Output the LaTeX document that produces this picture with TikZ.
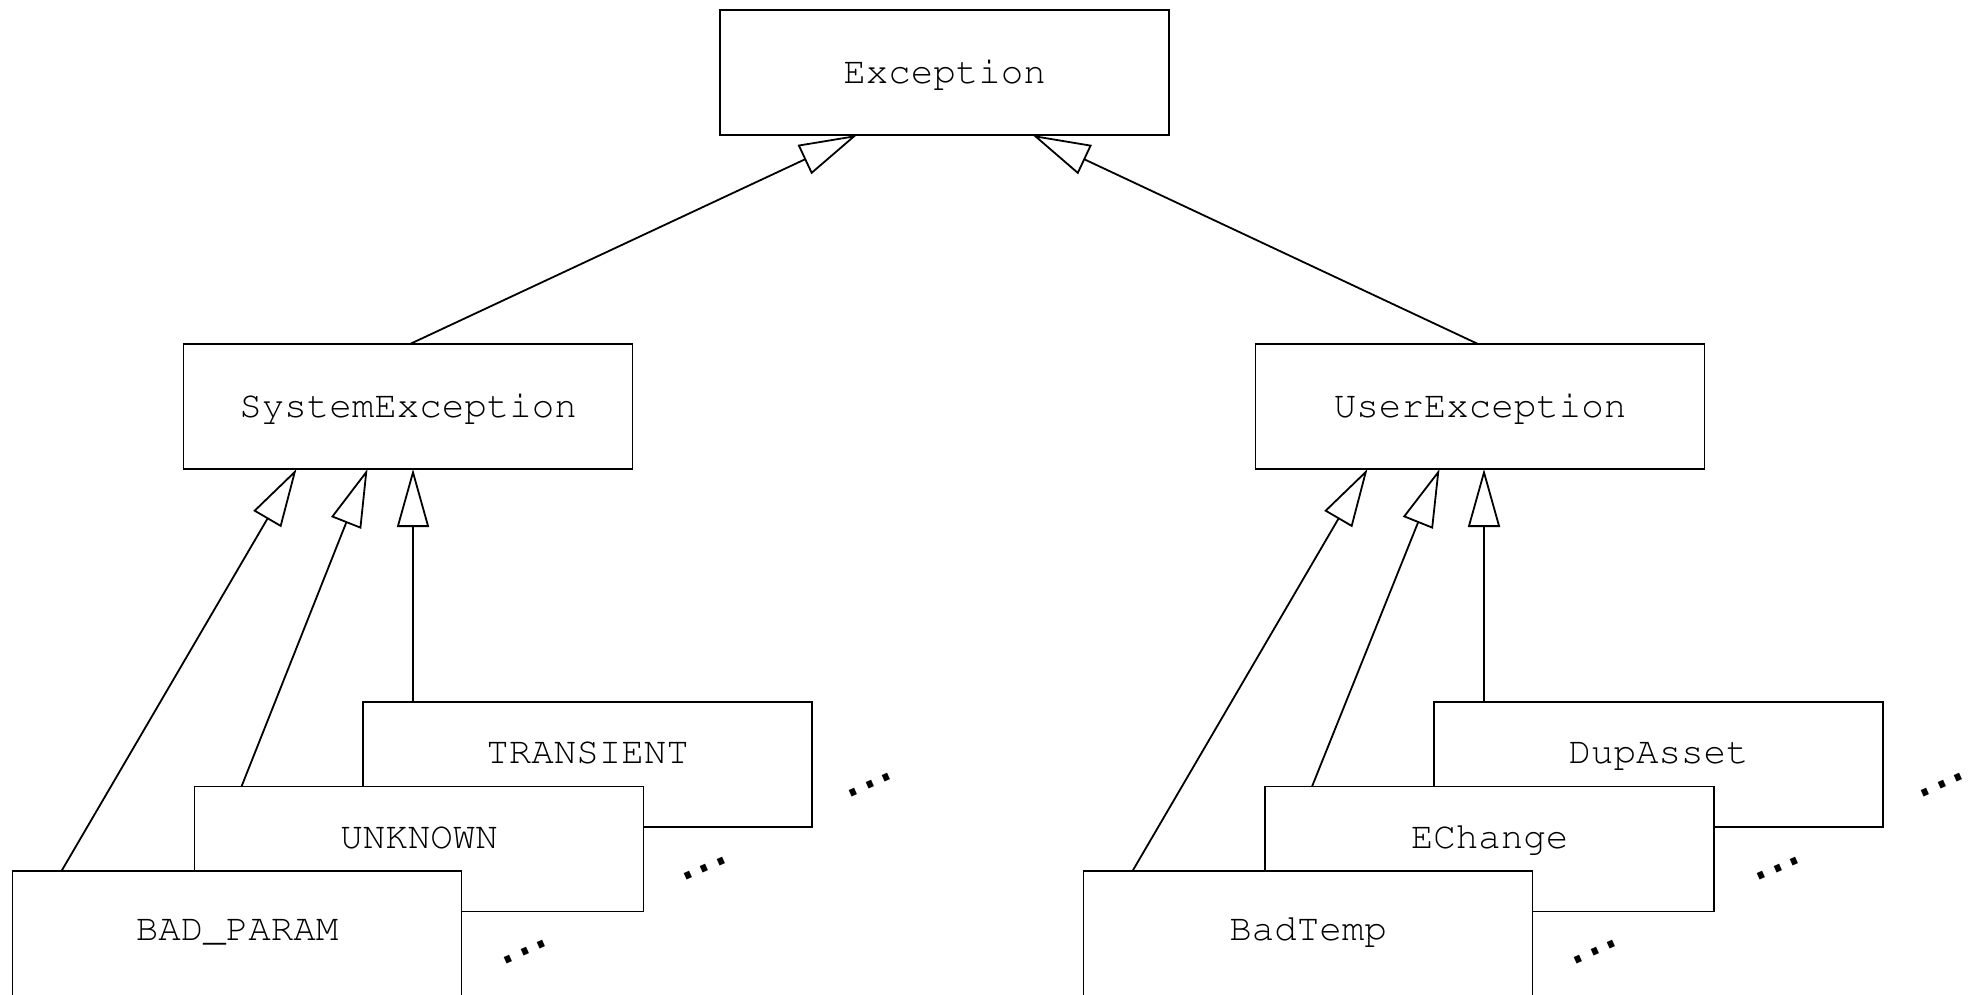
\documentclass[tikz,border=0pt]{standalone}
\usepackage[T1]{fontenc}
\usepackage{fontspec}
\newfontfamily\dejavudots{DejaVu Sans}
\usetikzlibrary{arrows.meta}
\newcommand\crfont{\fontencoding{T1}\fontfamily{pcr}\fontseries{m}\fontshape{n}\fontsize{37.5}{45}\selectfont}
\newcommand\dotfont{\dejavudots\fontsize{57}{62}\selectfont}
\begin{document}
\begin{tikzpicture}[x=1pt,y=-1pt,
  cls/.style={draw, line width=1.8pt, fill=white, minimum width=449pt,
    minimum height=125pt, inner sep=0pt, outer sep=0pt, font=\crfont,
    text height=21.4pt, text depth=0pt},
  liftA/.style={text height=9.9pt, text depth=11.5pt},
  liftB/.style={text height=10.4pt, text depth=11pt},
  liftC/.style={text height=17.9pt, text depth=3.5pt},
  inh/.style={line width=1.8pt, -{Triangle[open,length=58pt,width=32pt]}},
  more/.style={inner sep=0pt, font=\dotfont, rotate=24}]
\useasboundingbox (0,0) rectangle (1977,995);

\node[cls] (exc) at (944.5,72.5) {Exception};
\node[cls] (sys) at (408,406.5) {SystemException};
\node[cls] (usr) at (1480,406.5) {UserException};

\node[cls,liftA] (tra) at (587.5,764.5) {TRANSIENT};
\node[cls,liftB] (unk) at (419,849) {UNKNOWN};
\node[cls,liftC] (bad) at (237,933.5) {BAD\_PARAM};

\node[cls,liftA] (dup) at (1658.5,764.5) {DupAsset};
\node[cls,liftB] (ech) at (1489.5,849) {EChange};
\node[cls,liftC] (btm) at (1308,933.5) {BadTemp};

\draw[inh] ([xshift=2pt]sys.north) -- ([xshift=-87.5pt]exc.south);
\draw[inh] ([xshift=-2pt]usr.north) -- ([xshift=88pt]exc.south);

\draw[inh] ([xshift=49pt]bad.north west) -- ([xshift=113pt]sys.south west);
\draw[inh] ([xshift=47pt]unk.north west) -- ([xshift=184pt]sys.south west);
\draw[inh] ([xshift=50pt]tra.north west) coordinate (ta) -- (ta |- sys.south);

\draw[inh] ([xshift=49pt]btm.north west) -- ([xshift=112pt]usr.south west);
\draw[inh] ([xshift=47pt]ech.north west) -- ([xshift=184pt]usr.south west);
\draw[inh] ([xshift=50pt]dup.north west) coordinate (da) -- (da |- usr.south);

\node[more] (m1) at ([xshift=58pt,yshift=42pt]tra.south east) {...};
\node[more] (m2) at ([xshift=61pt,yshift=43pt]unk.south east) {...};
\node[more] (m3) at ([xshift=63.5pt,yshift=44pt]bad.south east) {...};
\node[more] (m4) at ([xshift=59pt,yshift=42pt]dup.south east) {...};
\node[more] (m5) at ([xshift=64pt,yshift=43pt]ech.south east) {...};
\node[more] (m6) at ([xshift=62.5pt,yshift=44pt]btm.south east) {...};
\end{tikzpicture}
\end{document}
